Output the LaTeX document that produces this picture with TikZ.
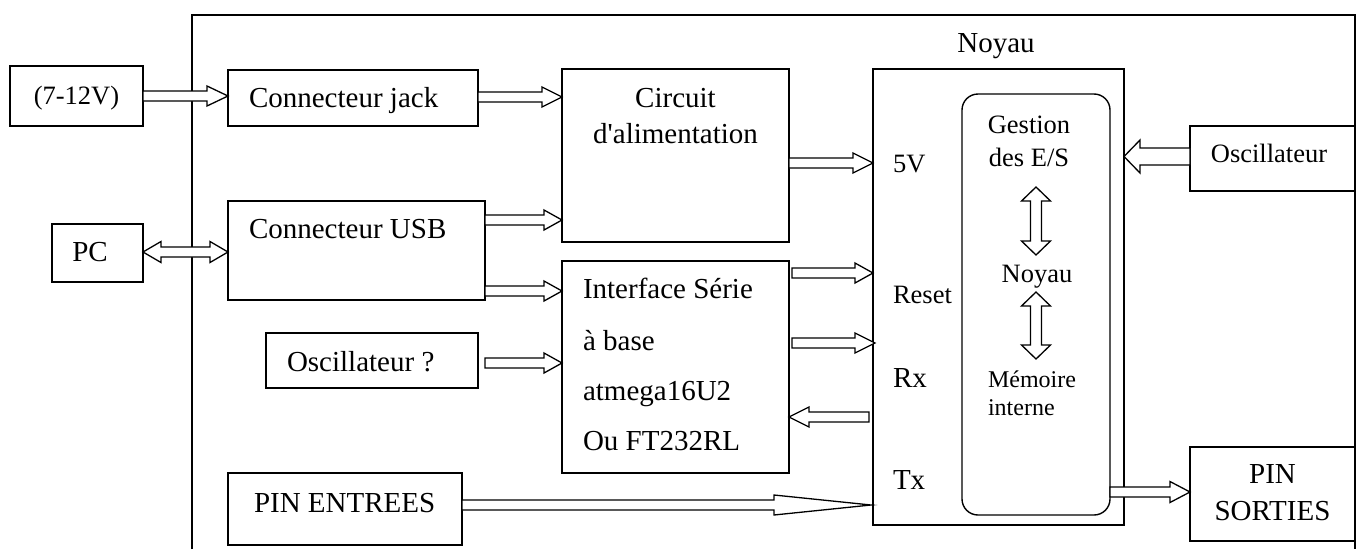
\documentclass[tikz,border=0pt]{standalone}
\usepackage{fontspec}
\setmainfont{Liberation Serif}[Ligatures=TeXOff]
\usetikzlibrary{calc}
\tikzset{
  box/.style={draw=black, line width=1.4pt, rectangle, inner sep=0pt, outer sep=0pt, fill=white},
  rbox/.style={draw=black, line width=1.4pt, rectangle, rounded corners=16pt, inner sep=0pt, outer sep=0pt},
  txt/.style={inner sep=0pt, outer sep=0pt, font=\fontsize{29}{34}\selectfont},
  stxt/.style={inner sep=0pt, outer sep=0pt, font=\fontsize{26.5}{30}\selectfont},
  xstxt/.style={inner sep=0pt, outer sep=0pt, font=\fontsize{24}{28}\selectfont},
  barrow/.style={draw=black, line width=1.3pt, fill=white, line join=miter},
}
\newcommand{\blockarrow}[6][]{%
  \coordinate (bh) at ($(#3)!#6!(#2)$);
  \draw[barrow,#1] ($(#2)!#4!90:(#3)$) -- ($(bh)!#4!90:(#3)$) -- ($(bh)!#5!90:(#3)$) -- (#3) -- ($(bh)!#5!-90:(#3)$) -- ($(bh)!#4!-90:(#3)$) -- ($(#2)!#4!-90:(#3)$) -- cycle;
}
\newcommand{\dblarrow}[6][]{%
  \coordinate (bha) at ($(#2)!#6!(#3)$);
  \coordinate (bhb) at ($(#3)!#6!(#2)$);
  \draw[barrow,#1] (#2) -- ($(bha)!#5!90:(#3)$) -- ($(bha)!#4!90:(#3)$) -- ($(bhb)!#4!90:(#3)$) -- ($(bhb)!#5!90:(#3)$) -- (#3) -- ($(bhb)!#5!-90:(#3)$) -- ($(bhb)!#4!-90:(#3)$) -- ($(bha)!#4!-90:(#3)$) -- ($(bha)!#5!-90:(#3)$) -- cycle;
}
\begin{document}
\begin{tikzpicture}[x=1pt, y=-1pt]
\useasboundingbox[fill=white] (0,0) rectangle (1356,549);
% outer frame (open at bottom)
\draw[line width=1.4pt] (192,549) -- (192,15) -- (1355,15) -- (1355,549);

% boxes
\node[box, minimum width=133pt, minimum height=60pt] (v12) at (76.5,96) {};
\node[box, minimum width=91pt, minimum height=58pt] (pc) at (97.5,253) {};
\node[box, minimum width=250pt, minimum height=56pt] (jack) at (353,98) {};
\node[box, minimum width=257pt, minimum height=99pt] (usb) at (356.5,250.5) {};
\node[box, minimum width=227pt, minimum height=173pt] (circ) at (675.5,155.5) {};
\node[box, minimum width=227pt, minimum height=212pt] (intf) at (675.5,367) {};
\node[box, minimum width=212pt, minimum height=55pt] (oscq) at (372,360.5) {};
\node[box, minimum width=234pt, minimum height=72pt] (pinin) at (345,509) {};
\node[box, minimum width=251pt, minimum height=456pt] (core) at (998.5,297) {};
\node[rbox, minimum width=148pt, minimum height=421pt] (mem) at (1036,304.5) {};
\node[box, minimum width=165pt, minimum height=65pt] (oscr) at (1272.5,158.5) {};
\node[box, minimum width=165pt, minimum height=94pt] (pinout) at (1272.5,494) {};

% texts
\node[stxt, anchor=base] (t12) at (76.5,104) {(7-12V)};
\node[txt, anchor=base] (tpc) at (90,261) {PC};
\node[txt, anchor=base west] (tjack) at (249,107) {Connecteur jack};
\node[txt, anchor=base west] (tusb) at (249,238) {Connecteur USB};
\node[txt, anchor=base] (tcirc1) at (675.5,107) {Circuit};
\node[txt, anchor=base] (tcirc2) at (675.5,143) {d'alimentation};
\node[txt, anchor=base west] (ti1) at (583,298) {Interface Série};
\node[txt, anchor=base west] (ti2) at (583,350) {à base};
\node[txt, anchor=base west] (ti3) at (583,400) {atmega16U2};
\node[txt, anchor=base west] (ti4) at (583,450) {Ou FT232RL};
\node[txt, anchor=base west] (toscq) at (287,371) {Oscillateur ?};
\node[txt, anchor=base west] (tpinin) at (254,512) {PIN ENTREES};
\node[txt, anchor=base] (tnoyau) at (996,52) {Noyau};
\node[stxt, anchor=base west] (t5v) at (893,172) {5V};
\node[stxt, anchor=base west] (treset) at (893,303) {Reset};
\node[txt, anchor=base west] (trx) at (893,387) {Rx};
\node[txt, anchor=base west] (ttx) at (893,489) {Tx};
\node[stxt, anchor=base] (tg1) at (1029,133) {Gestion};
\node[stxt, anchor=base] (tg2) at (1029,166) {des E/S};
\node[stxt, anchor=base] (tn2) at (1037,282) {Noyau};
\node[xstxt, anchor=base west] (tm1) at (988,387) {Mémoire};
\node[xstxt, anchor=base west] (tm2) at (988,415) {interne};
\node[stxt, anchor=base] (tosc) at (1269,162) {Oscillateur};
\node[txt, anchor=base] (tp1) at (1272.5,483) {PIN};
\node[txt, anchor=base] (tp2) at (1272.5,520) {SORTIES};

% arrow end points
\coordinate (a1s) at (v12.east);
\coordinate (a1e) at (jack.west |- v12.east);
\coordinate (a2s) at ($(jack.east)+(0,-1)$);
\coordinate (a2e) at (circ.west |- a2s);
\coordinate (a3s) at (circ.east |- 0,163);
\coordinate (a3e) at (core.west |- a3s);
\coordinate (a4s) at (usb.east |- 0,220);
\coordinate (a4e) at (circ.west |- a4s);
\coordinate (a5s) at (usb.east |- 0,291);
\coordinate (a5e) at (intf.west |- a5s);
\coordinate (a6s) at (pc.east |- 0,252);
\coordinate (a6e) at (usb.west |- a6s);
\coordinate (a7s) at ($(intf.east |- 0,273)+(3,0)$);
\coordinate (a7e) at (core.west |- a7s);
\coordinate (a8s) at ($(intf.east |- 0,343)+(3,0)$);
\coordinate (a8e) at ($(core.west |- a8s)+(2,0)$);
\coordinate (a9s) at ($(core.west |- 0,417)+(-4,0)$);
\coordinate (a9e) at (intf.east |- a9s);
\coordinate (a10s) at ($(oscq.east |- 0,363)+(7,0)$);
\coordinate (a10e) at (intf.west |- a10s);
\coordinate (a11s) at (pinin.east |- 0,505);
\coordinate (a11e) at ($(core.west |- a11s)+(-2,0)$);
\coordinate (a12s) at (oscr.west |- 0,156.5);
\coordinate (a12e) at (core.east |- a12s);
\coordinate (a13s) at (mem.east |- 0,492);
\coordinate (a13e) at (pinout.west |- a13s);
\coordinate (a14s) at (mem.north |- 0,187);
\coordinate (a14e) at (mem.north |- 0,255);
\coordinate (a15s) at (mem.north |- 0,292);
\coordinate (a15e) at (mem.north |- 0,359);

% arrows
\blockarrow{a1s}{a1e}{5pt}{10pt}{21pt}
\blockarrow{a2s}{a2e}{5pt}{10pt}{20pt}
\blockarrow{a3s}{a3e}{5pt}{10pt}{20pt}
\blockarrow{a4s}{a4e}{5pt}{10pt}{18pt}
\blockarrow{a5s}{a5e}{5pt}{10pt}{18pt}
\dblarrow{a6s}{a6e}{5pt}{10.5pt}{18pt}
\blockarrow{a7s}{a7e}{5pt}{10pt}{18pt}
\blockarrow{a8s}{a8e}{5pt}{10pt}{20pt}
\blockarrow{a9s}{a9e}{5pt}{10pt}{20pt}
\blockarrow{a10s}{a10e}{5pt}{10pt}{18pt}
\blockarrow{a11s}{a11e}{5pt}{10pt}{97pt}
\blockarrow{a12s}{a12e}{8.5pt}{16.5pt}{16pt}
\blockarrow{a13s}{a13e}{5pt}{10.5pt}{20pt}
\dblarrow{a14s}{a14e}{5.5pt}{14.5pt}{14pt}
\dblarrow{a15s}{a15e}{5.5pt}{14.5pt}{14pt}
\end{tikzpicture}
\end{document}
